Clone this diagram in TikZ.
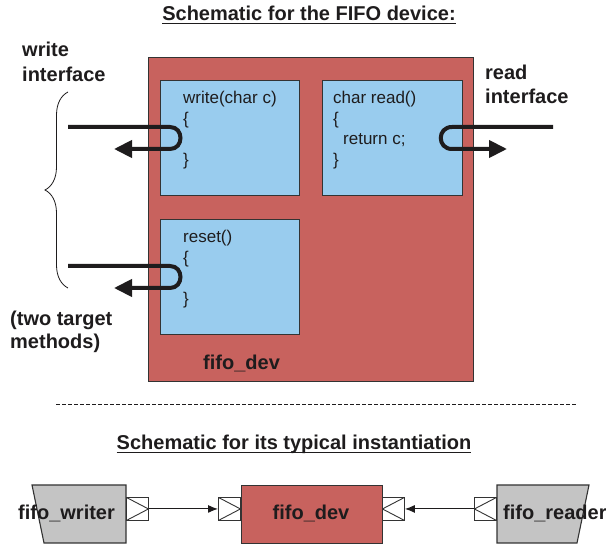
\documentclass[tikz,border=0pt]{standalone}
\usepackage{fontspec}
\setmainfont{Liberation Sans}
\usetikzlibrary{arrows.meta,decorations.pathreplacing}
\definecolor{devred}{RGB}{200,98,94}
\definecolor{codeblue}{RGB}{153,204,238}
\definecolor{modgray}{RGB}{196,196,196}
\definecolor{edgecol}{RGB}{51,51,51}
\definecolor{ink}{RGB}{30,28,29}
\newcommand\ulx[1]{\setbox0\hbox{#1}\rlap{\rule[-3pt]{\wd0}{1.3pt}}\box0}
\begin{document}
\begin{tikzpicture}[x=1pt,y=-1pt,
  lbl/.style={font=\fontsize{20}{24}\selectfont\bfseries, text=ink, inner sep=0pt},
  code/.style={font=\fontsize{17}{20}\selectfont, text=ink, inner sep=0pt, anchor=base west},
  devbox/.style={draw=edgecol, fill=devred, line width=1.2pt, inner sep=0pt, anchor=north west},
  codebox/.style={draw=edgecol, fill=codeblue, line width=1.1pt, inner sep=0pt, anchor=north west},
  modfill/.style={draw=edgecol, fill=modgray, line width=1.1pt},
  thickarrow/.style={line width=4pt, draw=ink, -{Triangle[length=18pt,width=17pt]}},
  thinarrow/.style={line width=1pt, draw=ink, -{Latex[length=10pt,width=8pt]}},
  port/.style={draw=edgecol, fill=white, line width=0.9pt, minimum width=22pt, minimum height=23pt, inner sep=0pt, anchor=north west},
  inr/.style={path picture={\draw[edgecol, line width=0.9pt] (path picture bounding box.north west) -- (path picture bounding box.east) -- (path picture bounding box.south west);}},
  inl/.style={path picture={\draw[edgecol, line width=0.9pt] (path picture bounding box.north east) -- (path picture bounding box.west) -- (path picture bounding box.south east);}}
]
\useasboundingbox (0,0) rectangle (606,545);

% titles
\node[lbl, anchor=base] (title1) at (309,21) {\ulx{Schematic for the FIFO device:}};
\node[lbl, anchor=base] (title2) at (294,450) {\ulx{Schematic for its typical instantiation}};

% device box
\node[devbox, minimum width=325pt, minimum height=324pt] (dev) at (148,57) {};
\node[codebox, minimum width=139pt, minimum height=115pt] (wbox) at (160,80) {};
\node[codebox, minimum width=140pt, minimum height=115pt] (rbox) at (322,80) {};
\node[codebox, minimum width=139pt, minimum height=115pt] (sbox) at (160,219) {};

\node[code] (w1) at (183,104) {write(char c)};
\node[code] (w2) at (183,125) {\{};
\node[code] (w3) at (183,166) {\}};
\node[code] (r1) at (333,104) {char read()};
\node[code] (r2) at (333,125) {\{};
\node[code] (r3) at (343,145) {return c;};
\node[code] (r4) at (333,166) {\}};
\node[code] (s1) at (183,243) {reset()};
\node[code] (s2) at (183,264) {\{};
\node[code] (s3) at (183,305) {\}};

\node[lbl, anchor=base west] (devlbl) at (203,370) {fifo\_dev};

% side labels
\node[lbl, anchor=base west] (wi1) at (22,57) {write};
\node[lbl, anchor=base west] (wi2) at (22,82) {interface};
\node[lbl, anchor=base west] (ri1) at (485,80) {read};
\node[lbl, anchor=base west] (ri2) at (485,104) {interface};
\node[lbl, anchor=base west] (tm1) at (10,326) {(two target};
\node[lbl, anchor=base west] (tm2) at (10,349) {methods)};

% brace
\coordinate (b1) at (68,288);
\coordinate (b2) at (68,92);
\draw[decorate, decoration={brace, amplitude=23pt}, line width=0.8pt, ink] (b1) -- (b2);

% interface arrows
\coordinate (wa0) at (68,127);
\coordinate (wa1) at (170,127);
\coordinate (wa2) at (170,149);
\coordinate (wa3) at (114,149);
\draw[thickarrow] (wa0) -- (wa1) .. controls +(14,0) and +(14,0) .. (wa2) -- (wa3);

\coordinate (sa0) at (68,266);
\coordinate (sa1) at (170,266);
\coordinate (sa2) at (170,288);
\coordinate (sa3) at (114,288);
\draw[thickarrow] (sa0) -- (sa1) .. controls +(14,0) and +(14,0) .. (sa2) -- (sa3);

\coordinate (ra0) at (553,127);
\coordinate (ra1) at (452,127);
\coordinate (ra2) at (452,149);
\coordinate (ra3) at (507,149);
\draw[thickarrow] (ra0) -- (ra1) .. controls +(-15,0) and +(-15,0) .. (ra2) -- (ra3);

% dashed separator
\coordinate (d1) at (56,404);
\coordinate (d2) at (577,404);
\draw[ink, line width=0.9pt, dash pattern=on 3.5pt off 2.5pt] (d1) -- (d2);

% instantiation
\draw[modfill] (32,485) -- (126,485) -- (126,543) -- (44,543) -- cycle;
\draw[modfill] (497,485) -- (589,485) -- (577,543) -- (497,543) -- cycle;
\node[devbox, minimum width=141pt, minimum height=58pt] (bdev) at (241,485) {};

\node[lbl, anchor=base west] (wrl) at (18,520) {fifo\_writer};
\node[lbl, anchor=base west] (rdl) at (503,520) {fifo\_reader};
\node[lbl, anchor=base] (bdevl) at (311,520) {fifo\_dev};

\node[port, inr] (wp) at (126,497) {};
\node[port, inr] (dl) at (218,497) {};
\node[port, inl] (dr) at (382,497) {};
\node[port, inl] (rp) at (474,497) {};

\draw[thinarrow] (wp.east) -- (dl.west);
\draw[thinarrow] (rp.west) -- (dr.east);
\end{tikzpicture}
\end{document}
